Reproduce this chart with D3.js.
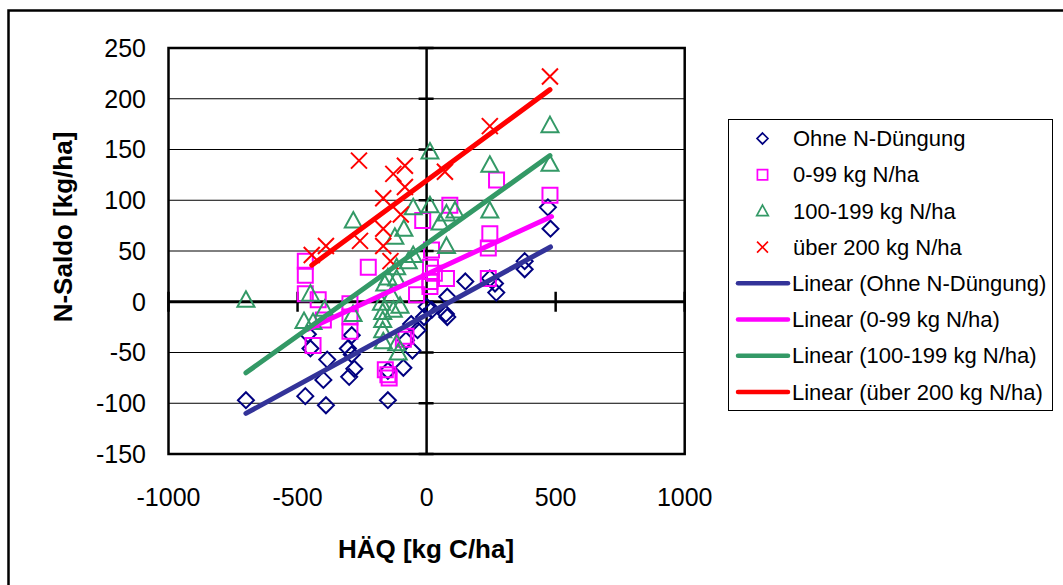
<!DOCTYPE html>
<html><head><meta charset="utf-8">
<script src="https://cdn.jsdelivr.net/npm/d3@7"></script>
<style>body{margin:0;background:#fff}svg{display:block}text{font-family:"Liberation Sans",Arial,sans-serif}</style>
</head><body><svg id="c" width="1063" height="585"></svg>
<script>
// ---- data ----
const seriesNames = ["Ohne N-Düngung","0-99 kg N/ha","100-199 kg N/ha","über 200 kg N/ha"];
const ohneX = [-700,-470,-390,-400,-385,-450,-460,-300,-280,-305,-290,-290,-150,-150,-90,-55,-80,-35,-60,20,80,75,80,150,245,265,270,380,380,470,480,-10,0];
const ohneY = [-97,-93,-102,-77,-57,-46,-32,-74,-66,-46,-33,-52,-97,-68,-65,-48,-38,-28,-22,-8,-15,-12,5,20,23,18,9,40,32,93,72,-15,-5];
const n099X = [-470,-470,-470,-440,-420,-400,-297,-297,-297,-226,-160,-150,-145,-90,-80,-39,-15,13,13,15,19,30,77,90,239,239,245,271,478];
const n099Y = [40,26,8,-43,2,-18,-2,-15,-29,34,-67,-72,-75,-37,-34,7,80,20,15,34,51,28,23,95,23,53,67,120,105];
const n100X = [-700,-450,-395,-475,-440,-285,-284,-175,-170,-170,-170,-168,-162,-150,-136,-129,-116,-116,-110,-103,-116,-71,-52,-123,-88,-52,13,13,52,77,77,110,245,245,478,478];
const n100Y = [2,8,-7,-19,-20,-12,80,-1,-10,-18,-28,-39,18,24,7,-8,23,-41,-50,-4,34,40,46,64,72,93,95,148,78,87,55,90,135,90,174,136];
const n200X = [-445,-390,-262,-258,-168,-168,-168,-140,-129,-100,-84,-84,71,245,478];
const n200Y = [46,55,139,60,102,72,55,40,126,86,134,113,128,173,222];
// linear trend lines (start / end)
const trendX = [[-700,480],[-460,484],[-700,478],[-445,478]];
const trendY = [[-110,54],[-27,84],[-70,144],[36,209]];
const xTicks = [-1000,-500,0,500,1000];
const yTicks = [-150,-100,-50,0,50,100,150,200,250];

const markerColors = ["#000080","#FF00FF","#339966","#FF0000"];
const lineColors = ["#333399","#FF00FF","#339966","#FF0000"];
const shapes = ["diamond","square","triangle","cross"];

const svg = d3.select("#c");
const L=168.5, R=684.7, T=48, B=454;
const x = d3.scaleLinear().domain([-1000,1000]).range([L,R]);
const y = d3.scaleLinear().domain([-150,250]).range([B,T]);

// outer frame
svg.append("rect").attr("x",8.5).attr("y",10.5).attr("width",1200).attr("height",1000)
  .attr("fill","none").attr("stroke","#000").attr("stroke-width",2.5);

// gridlines
svg.append("g").selectAll("line").data(yTicks.filter(d=>d!==0 && d!==-150 && d!==250)).join("line")
  .attr("x1",L).attr("x2",R).attr("y1",d=>y(d)).attr("y2",d=>y(d))
  .attr("stroke","#000").attr("stroke-width",1);

// plot border
svg.append("rect").attr("x",L).attr("y",T).attr("width",R-L).attr("height",B-T)
  .attr("fill","none").attr("stroke","#000").attr("stroke-width",2.5);

// axes crossing at 0
svg.append("line").attr("x1",x(0)).attr("x2",x(0)).attr("y1",T).attr("y2",B).attr("stroke","#000").attr("stroke-width",2.5);
svg.append("line").attr("x1",L).attr("x2",R).attr("y1",y(0)).attr("y2",y(0)).attr("stroke","#000").attr("stroke-width",3);
// tick marks
svg.append("g").selectAll("line").data(yTicks).join("line")
  .attr("x1",x(0)-8).attr("x2",x(0)+7).attr("y1",d=>y(d)).attr("y2",d=>y(d))
  .attr("stroke","#000").attr("stroke-width",2.5);
svg.append("g").selectAll("line").data(xTicks).join("line")
  .attr("x1",d=>x(d)).attr("x2",d=>x(d)).attr("y1",y(0)-10).attr("y2",y(0)+10)
  .attr("stroke","#000").attr("stroke-width",2.5);

// tick labels
svg.append("g").selectAll("text").data(yTicks).join("text")
  .attr("x",146).attr("y",d=>y(d)).attr("dy","0.35em").attr("text-anchor","end")
  .attr("font-size",25).text(d=>d);
svg.append("g").selectAll("text").data(xTicks).join("text")
  .attr("x",d=>x(d)).attr("y",497).attr("dy","0.35em").attr("text-anchor","middle")
  .attr("font-size",25).text(d=>d);

// axis titles
svg.append("text").attr("transform","translate(63,227) rotate(-90)").attr("text-anchor","middle")
  .attr("dy","0.35em").attr("font-size",26).attr("font-weight","bold").text("N-Saldo [kg/ha]");
svg.append("text").attr("x",426).attr("y",549).attr("text-anchor","middle")
  .attr("dy","0.35em").attr("font-size",26).attr("font-weight","bold").text("HÄQ [kg C/ha]");

function markerPath(shape){
  if(shape==="diamond") return "M0,-8L8,0L0,8L-8,0Z";
  if(shape==="square") return "M-7.5,-7.5H7.5V7.5H-7.5Z";
  if(shape==="triangle") return "M0,-8.5L8.5,7H-8.5Z";
  return "M-8,-8L8,8M-8,8L8,-8";
}
const seriesData = [[ohneX,ohneY],[n099X,n099Y],[n100X,n100Y],[n200X,n200Y]];
seriesData.forEach(([xs,ys],i)=>{
  svg.append("g").selectAll("path").data(xs.map((v,j)=>[v,ys[j]])).join("path")
    .attr("transform",d=>`translate(${x(d[0])},${y(d[1])})`)
    .attr("d",markerPath(shapes[i])).attr("fill","none")
    .attr("stroke",markerColors[i]).attr("stroke-width",2);
});
// trend lines
trendX.forEach((tx,i)=>{
  svg.append("line").attr("x1",x(tx[0])).attr("x2",x(tx[1]))
    .attr("y1",y(trendY[i][0])).attr("y2",y(trendY[i][1]))
    .attr("stroke",lineColors[i]).attr("stroke-width",5).attr("stroke-linecap","round");
});

// legend
const lg = svg.append("g");
lg.append("rect").attr("x",728.5).attr("y",119.5).attr("width",324).attr("height",291)
  .attr("fill","#fff").attr("stroke","#000").attr("stroke-width",1);
const rowY = d3.range(8).map(i=>138.5+i*36.2);
seriesNames.forEach((n,i)=>{
  lg.append("path")
    .attr("d",markerPath(shapes[i])).attr("fill","none").attr("stroke",markerColors[i]).attr("stroke-width",2.5)
    .attr("transform",`translate(762.5,${rowY[i]}) scale(0.68)`);
  lg.append("text").attr("x",793).attr("y",rowY[i]).attr("dy","0.35em").attr("font-size",22).text(n);
});
seriesNames.forEach((n,i)=>{
  const yy=rowY[i+4];
  lg.append("line").attr("x1",738).attr("x2",788).attr("y1",yy).attr("y2",yy)
    .attr("stroke",lineColors[i]).attr("stroke-width",4.5).attr("stroke-linecap","round");
  lg.append("text").attr("x",792).attr("y",yy).attr("dy","0.35em").attr("font-size",22).text("Linear ("+n+")");
});
</script></body></html>
